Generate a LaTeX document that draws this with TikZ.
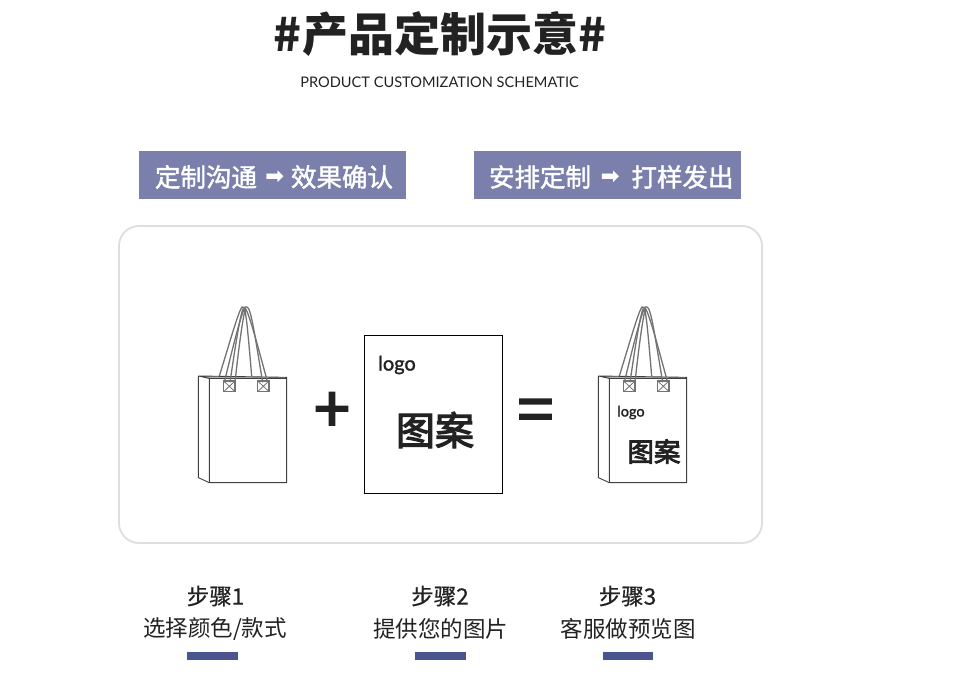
\documentclass[tikz,border=0pt]{standalone}
\usepackage{fontspec}
\setmainfont{Noto Sans CJK SC}
\newfontfamily\medfont[FakeBold=1.6]{Noto Sans CJK SC}
\newfontfamily\stepfont[FakeBold=0.6]{Noto Sans CJK SC}
\newfontfamily\artfont[FakeBold=3.2]{Noto Sans CJK SC}
\newfontfamily\symfont[FakeBold=3]{Noto Sans CJK SC}
\newfontfamily\latofont{Lato}
\newfontfamily\latomed[FakeBold=1.4]{Lato}
\newfontfamily\arrowfont[FakeBold=1.2]{DejaVu Sans}
\definecolor{banner}{HTML}{7A80AB}
\definecolor{barblue}{HTML}{4A5590}
\definecolor{ink}{HTML}{222222}
\newcommand{\fsz}[1]{\fontsize{#1}{#1}\selectfont}
\tikzset{
  txt/.style={inner sep=0pt,outer sep=0pt,anchor=center,text=ink},
  bannerbox/.style={fill=banner,draw=none},
  bannertext/.style={inner sep=0pt,text=white,anchor=center},
  stepbar/.style={fill=barblue,draw=none},
  strand/.style={draw=black!55,line width=1.3pt},
  bagline/.style={draw=black!75,line width=0.9pt},
  pics/bag/.style={code={
    \begin{scope}[x=0.3333pt,y=-0.3333pt]
      \fill[black!30] (55,243)--(320,247)--(320,252)--(88,252)--cycle;
      \draw[bagline] (55,243) -- (320,247) -- (320,563) -- (88,563) -- (88,250) -- cycle;
      \draw[bagline] (88,250) -- (320,250);
      \draw[bagline] (55,243) -- (55,548) -- (88,563);
      \draw[strand] (118,243) .. controls (150,140) and (175,50) .. (186,36) .. controls (195,30) and (198,40) .. (215,243);
      \draw[strand] (133,262) .. controls (160,150) and (185,50) .. (196,36) .. controls (210,30) and (215,60) .. (248,262);
      \draw[strand] (150,262) .. controls (165,160) and (180,60) .. (190,40);
      \draw[strand] (165,262) .. controls (175,170) and (185,90) .. (196,40) .. controls (210,60) and (240,180) .. (263,262);
      \draw[strand] (131,258) -- (131,290) -- (165,290) -- (165,258) -- cycle;
      \draw[strand,line width=0.8pt] (131,258) -- (165,290) (131,290) -- (165,258);
      \draw[strand] (233,258) -- (233,290) -- (267,290) -- (267,258) -- cycle;
      \draw[strand,line width=0.8pt] (233,258) -- (267,290) (233,290) -- (267,258);
    \end{scope}
  }}
}
\begin{document}
\begin{tikzpicture}[x=1pt,y=-1pt]
\useasboundingbox (0,0) rectangle (978,684);
\fill[white] (0,0) rectangle (978,684);
\node[txt] (title) at (440,34.5) {\fsz{46}\bfseries \#产品定制示意\#};
\node[txt] (subtitle) at (439.5,82) {\latofont\fsz{14.6}PRODUCT CUSTOMIZATION SCHEMATIC};
\fill[bannerbox] (139,151) rectangle (406,199);
\fill[bannerbox] (474,151) rectangle (741,199);
\node[bannertext] (b1a) at (206,177) {\medfont\fsz{25.5}定制沟通};
\node[bannertext] (b1arrow) at (274.5,177) {\arrowfont\fsz{22}➡};
\node[bannertext] (b1b) at (342,177) {\medfont\fsz{25.5}效果确认};
\node[bannertext] (b2a) at (540,177) {\medfont\fsz{25.5}安排定制};
\node[bannertext] (b2arrow) at (610,177) {\arrowfont\fsz{22}➡};
\node[bannertext] (b2b) at (682.5,177) {\medfont\fsz{25.5}打样发出};
\draw[draw=black!13,line width=1.8pt,rounded corners=20pt] (119,226) rectangle (762,543);
\pic at (180,295) {bag};
\pic at (580,295) {bag};
\node[txt,text=ink] (plus) at (332,412.5) {\symfont\fsz{64}+};
\node[draw=black,line width=0.8pt,minimum width=138pt,minimum height=158pt,inner sep=0pt] (artbox) at (433,414) {};
\node[txt] (logo1) at (397,365) {\latomed\fsz{20}logo};
\node[txt,text=ink] (art1) at (435,430) {\artfont\fsz{39}图案};
\node[txt,text=ink] (equal) at (535.5,416) {\symfont\fsz{64}=};
\node[txt] (logo2) at (631,412.5) {\latomed\fsz{14.5}logo};
\node[txt] (art2) at (654,451.5) {\artfont\fsz{26.5}图案};
\node[txt] (s1) at (215.5,596) {\stepfont\fsz{22.5}步骤1};
\node[txt] (d1) at (215,629) {\fsz{22.5}选择颜色/款式};
\fill[stepbar] (187,652) rectangle (238,660);
\node[txt] (s2) at (440,596) {\stepfont\fsz{22.5}步骤2};
\node[txt] (d2) at (440.5,629) {\fsz{22.5}提供您的图片};
\fill[stepbar] (415,652) rectangle (466,660);
\node[txt] (s3) at (627.5,596) {\stepfont\fsz{22.5}步骤3};
\node[txt] (d3) at (628,629) {\fsz{22.5}客服做预览图};
\fill[stepbar] (603,652) rectangle (653,660);
\end{tikzpicture}
\end{document}
